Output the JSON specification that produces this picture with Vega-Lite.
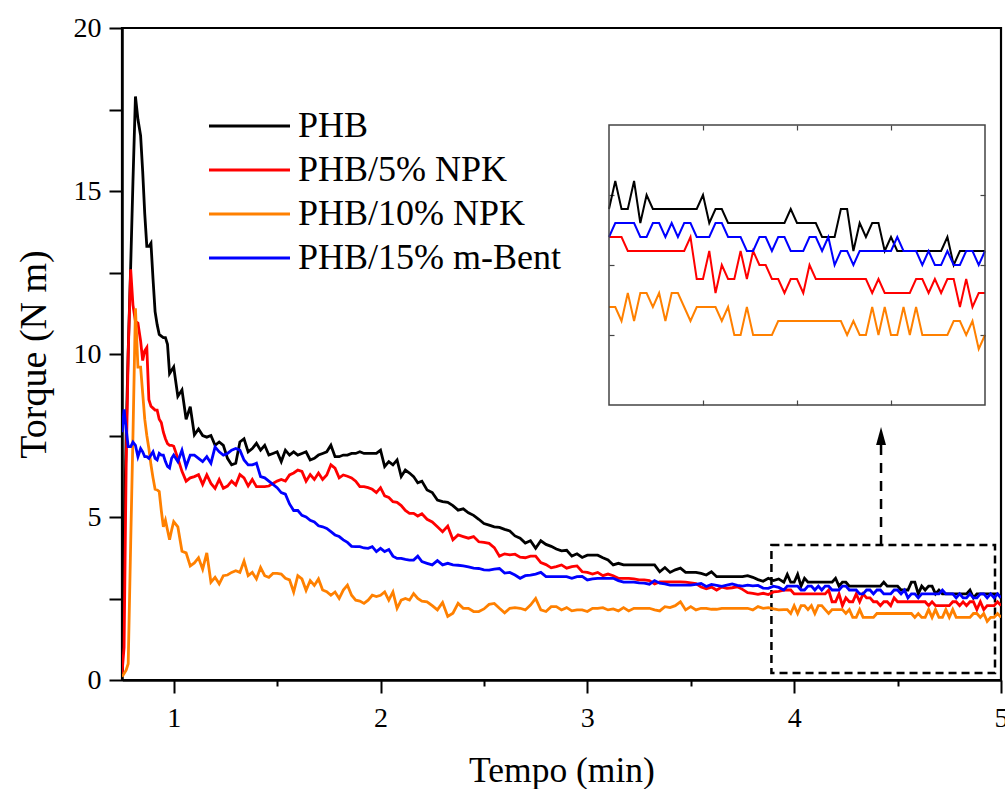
{
  "$schema": "https://vega.github.io/schema/vega-lite/v6.json",
  "width": 879,
  "height": 652,
  "autosize": {"type": "none"},
  "padding": {"left": 122, "top": 28, "right": 4, "bottom": 109},
  "background": "white",
  "config": {
    "view": {"stroke": "black", "strokeWidth": 2.2},
    "font": "Liberation Serif",
    "axis": {"labelFont": "Liberation Serif", "titleFont": "Liberation Serif", "labelColor": "black", "titleColor": "black", "titleFontWeight": "normal", "grid": false}
  },
  "datasets": {
    "torque": [
      {"t": 0.75, "PHB": 0.3, "NPK5": 0.2, "NPK10": 0.1, "Bent15": 7.6},
      {"t": 0.76, "PHB": 4.0, "NPK5": 1.0, "NPK10": 0.2, "Bent15": 8.3},
      {"t": 0.77, "PHB": 7.5, "NPK5": 6.5, "NPK10": 0.3, "Bent15": 7.7},
      {"t": 0.78, "PHB": 10.1, "NPK5": 10.0, "NPK10": 0.5, "Bent15": 7.16},
      {"t": 0.792, "PHB": 12.7, "NPK5": 12.6, "NPK10": 4.2, "Bent15": 7.16},
      {"t": 0.803, "PHB": 15.3, "NPK5": 11.5, "NPK10": 7.5, "Bent15": 7.3},
      {"t": 0.815, "PHB": 17.9, "NPK5": 11.0, "NPK10": 11.4, "Bent15": 7.2},
      {"t": 0.827, "PHB": 17.2, "NPK5": 10.95, "NPK10": 9.6, "Bent15": 6.85},
      {"t": 0.84, "PHB": 16.7, "NPK5": 10.4, "NPK10": 9.6, "Bent15": 7.1},
      {"t": 0.85, "PHB": 15.6, "NPK5": 9.8, "NPK10": 8.8, "Bent15": 7.0},
      {"t": 0.86, "PHB": 14.3, "NPK5": 10.1, "NPK10": 8.0, "Bent15": 6.85},
      {"t": 0.87, "PHB": 13.3, "NPK5": 10.2, "NPK10": 7.5, "Bent15": 6.85},
      {"t": 0.88, "PHB": 13.3, "NPK5": 8.6, "NPK10": 7.1, "Bent15": 6.8},
      {"t": 0.89, "PHB": 13.4, "NPK5": 8.4, "NPK10": 6.6, "Bent15": 6.9},
      {"t": 0.9, "PHB": 12.3, "NPK5": 8.34, "NPK10": 6.2, "Bent15": 7.0},
      {"t": 0.91, "PHB": 11.3, "NPK5": 8.28, "NPK10": 5.85, "Bent15": 6.8},
      {"t": 0.92, "PHB": 10.9, "NPK5": 8.28, "NPK10": 5.83, "Bent15": 6.75},
      {"t": 0.93, "PHB": 10.6, "NPK5": 8.0, "NPK10": 5.78, "Bent15": 6.95},
      {"t": 0.94, "PHB": 10.55, "NPK5": 7.9, "NPK10": 5.2, "Bent15": 6.9},
      {"t": 0.95, "PHB": 10.5, "NPK5": 7.6, "NPK10": 4.7, "Bent15": 6.9},
      {"t": 0.96, "PHB": 10.5, "NPK5": 7.4, "NPK10": 4.9, "Bent15": 6.7},
      {"t": 0.97, "PHB": 10.3, "NPK5": 7.25, "NPK10": 4.6, "Bent15": 6.55},
      {"t": 0.98, "PHB": 9.4, "NPK5": 7.2, "NPK10": 4.3, "Bent15": 6.5},
      {"t": 0.99, "PHB": 9.5, "NPK5": 7.2, "NPK10": 4.6, "Bent15": 6.8},
      {"t": 1.0, "PHB": 9.6, "NPK5": 7.17, "NPK10": 4.86, "Bent15": 6.9},
      {"t": 1.02, "PHB": 8.7, "NPK5": 6.8, "NPK10": 4.7, "Bent15": 6.7},
      {"t": 1.04, "PHB": 8.9, "NPK5": 6.4, "NPK10": 3.95, "Bent15": 7.05},
      {"t": 1.06, "PHB": 8.0, "NPK5": 6.1, "NPK10": 3.9, "Bent15": 6.55},
      {"t": 1.08, "PHB": 8.38, "NPK5": 6.2, "NPK10": 3.5, "Bent15": 6.9},
      {"t": 1.1, "PHB": 7.52, "NPK5": 6.24, "NPK10": 3.59, "Bent15": 6.9},
      {"t": 1.12, "PHB": 7.7, "NPK5": 6.3, "NPK10": 3.75, "Bent15": 6.8},
      {"t": 1.14, "PHB": 7.5, "NPK5": 6.0, "NPK10": 3.4, "Bent15": 6.7},
      {"t": 1.16, "PHB": 7.45, "NPK5": 6.29, "NPK10": 3.9, "Bent15": 6.85},
      {"t": 1.18, "PHB": 7.5, "NPK5": 6.03, "NPK10": 3.0, "Bent15": 6.65},
      {"t": 1.2, "PHB": 7.2, "NPK5": 5.88, "NPK10": 3.15, "Bent15": 7.15},
      {"t": 1.22, "PHB": 7.3, "NPK5": 6.15, "NPK10": 2.95, "Bent15": 7.0},
      {"t": 1.24, "PHB": 7.2, "NPK5": 5.88, "NPK10": 3.2, "Bent15": 6.9},
      {"t": 1.26, "PHB": 6.8, "NPK5": 5.95, "NPK10": 3.22, "Bent15": 6.95},
      {"t": 1.28, "PHB": 6.6, "NPK5": 6.1, "NPK10": 3.3, "Bent15": 7.05},
      {"t": 1.3, "PHB": 6.65, "NPK5": 5.98, "NPK10": 3.35, "Bent15": 7.1},
      {"t": 1.32, "PHB": 7.3, "NPK5": 6.3, "NPK10": 3.3, "Bent15": 7.05},
      {"t": 1.34, "PHB": 7.4, "NPK5": 6.2, "NPK10": 3.65, "Bent15": 6.75},
      {"t": 1.36, "PHB": 7.0, "NPK5": 5.95, "NPK10": 3.2, "Bent15": 6.6},
      {"t": 1.38, "PHB": 7.1, "NPK5": 6.15, "NPK10": 3.3, "Bent15": 6.6},
      {"t": 1.4, "PHB": 7.26, "NPK5": 5.93, "NPK10": 3.1, "Bent15": 6.65},
      {"t": 1.42, "PHB": 7.05, "NPK5": 5.93, "NPK10": 3.45, "Bent15": 6.24},
      {"t": 1.44, "PHB": 7.2, "NPK5": 5.93, "NPK10": 3.2, "Bent15": 6.2},
      {"t": 1.46, "PHB": 6.9, "NPK5": 5.95, "NPK10": 3.15, "Bent15": 6.1},
      {"t": 1.48, "PHB": 6.95, "NPK5": 6.03, "NPK10": 3.27, "Bent15": 6.0},
      {"t": 1.5, "PHB": 7.0, "NPK5": 6.1, "NPK10": 3.27, "Bent15": 5.9},
      {"t": 1.52, "PHB": 6.7, "NPK5": 6.15, "NPK10": 3.25, "Bent15": 5.75},
      {"t": 1.54, "PHB": 7.05, "NPK5": 6.1, "NPK10": 3.12, "Bent15": 5.7},
      {"t": 1.56, "PHB": 6.9, "NPK5": 6.29, "NPK10": 3.07, "Bent15": 5.4},
      {"t": 1.58, "PHB": 7.0, "NPK5": 6.35, "NPK10": 2.7, "Bent15": 5.2},
      {"t": 1.6, "PHB": 6.9, "NPK5": 6.44, "NPK10": 3.2, "Bent15": 5.2},
      {"t": 1.62, "PHB": 6.95, "NPK5": 6.4, "NPK10": 3.1, "Bent15": 5.05},
      {"t": 1.64, "PHB": 7.0, "NPK5": 6.1, "NPK10": 2.75, "Bent15": 5.0},
      {"t": 1.66, "PHB": 6.75, "NPK5": 6.3, "NPK10": 3.05, "Bent15": 4.9},
      {"t": 1.68, "PHB": 6.8, "NPK5": 6.15, "NPK10": 2.9, "Bent15": 4.85},
      {"t": 1.7, "PHB": 6.9, "NPK5": 6.35, "NPK10": 3.1, "Bent15": 4.73},
      {"t": 1.72, "PHB": 6.95, "NPK5": 6.15, "NPK10": 2.76, "Bent15": 4.7},
      {"t": 1.74, "PHB": 7.0, "NPK5": 6.29, "NPK10": 2.71, "Bent15": 4.65},
      {"t": 1.76, "PHB": 7.2, "NPK5": 6.6, "NPK10": 2.6, "Bent15": 4.55},
      {"t": 1.78, "PHB": 6.85, "NPK5": 6.5, "NPK10": 2.7, "Bent15": 4.45},
      {"t": 1.8, "PHB": 6.85, "NPK5": 6.2, "NPK10": 2.5, "Bent15": 4.4},
      {"t": 1.82, "PHB": 6.9, "NPK5": 6.29, "NPK10": 2.76, "Bent15": 4.3},
      {"t": 1.84, "PHB": 6.9, "NPK5": 6.25, "NPK10": 2.91, "Bent15": 4.22},
      {"t": 1.86, "PHB": 6.95, "NPK5": 6.2, "NPK10": 2.6, "Bent15": 4.1},
      {"t": 1.88, "PHB": 6.95, "NPK5": 6.1, "NPK10": 2.45, "Bent15": 4.09},
      {"t": 1.9, "PHB": 7.0, "NPK5": 5.93, "NPK10": 2.42, "Bent15": 4.09},
      {"t": 1.92, "PHB": 6.95, "NPK5": 5.93, "NPK10": 2.35, "Bent15": 4.05},
      {"t": 1.94, "PHB": 6.95, "NPK5": 5.9, "NPK10": 2.45, "Bent15": 4.04},
      {"t": 1.96, "PHB": 6.95, "NPK5": 5.85, "NPK10": 2.6, "Bent15": 4.09},
      {"t": 1.98, "PHB": 6.95, "NPK5": 5.75, "NPK10": 2.56, "Bent15": 3.94},
      {"t": 2.0, "PHB": 7.05, "NPK5": 5.9, "NPK10": 2.6, "Bent15": 4.04},
      {"t": 2.02, "PHB": 6.55, "NPK5": 5.65, "NPK10": 2.7, "Bent15": 3.94},
      {"t": 2.04, "PHB": 6.7, "NPK5": 5.6, "NPK10": 2.45, "Bent15": 4.0},
      {"t": 2.06, "PHB": 6.6, "NPK5": 5.47, "NPK10": 2.7, "Bent15": 3.8},
      {"t": 2.08, "PHB": 6.75, "NPK5": 5.45, "NPK10": 2.2, "Bent15": 3.73},
      {"t": 2.1, "PHB": 6.24, "NPK5": 5.35, "NPK10": 2.45, "Bent15": 3.73},
      {"t": 2.12, "PHB": 6.44, "NPK5": 5.2, "NPK10": 2.5, "Bent15": 3.7},
      {"t": 2.14, "PHB": 6.35, "NPK5": 5.11, "NPK10": 2.45, "Bent15": 3.68},
      {"t": 2.16, "PHB": 6.24, "NPK5": 5.11, "NPK10": 2.65, "Bent15": 3.68},
      {"t": 2.18, "PHB": 6.05, "NPK5": 5.03, "NPK10": 2.5, "Bent15": 3.8},
      {"t": 2.2, "PHB": 6.1, "NPK5": 5.1, "NPK10": 2.42, "Bent15": 3.63},
      {"t": 2.225, "PHB": 5.83, "NPK5": 4.93, "NPK10": 2.4, "Bent15": 3.58},
      {"t": 2.25, "PHB": 5.75, "NPK5": 4.85, "NPK10": 2.28, "Bent15": 3.53},
      {"t": 2.275, "PHB": 5.52, "NPK5": 4.7, "NPK10": 2.15, "Bent15": 3.66},
      {"t": 2.3, "PHB": 5.47, "NPK5": 4.55, "NPK10": 2.38, "Bent15": 3.53},
      {"t": 2.325, "PHB": 5.45, "NPK5": 4.72, "NPK10": 1.95, "Bent15": 3.58},
      {"t": 2.35, "PHB": 5.35, "NPK5": 4.3, "NPK10": 2.05, "Bent15": 3.53},
      {"t": 2.375, "PHB": 5.21, "NPK5": 4.45, "NPK10": 2.35, "Bent15": 3.52},
      {"t": 2.4, "PHB": 5.25, "NPK5": 4.4, "NPK10": 2.2, "Bent15": 3.5},
      {"t": 2.425, "PHB": 5.13, "NPK5": 4.35, "NPK10": 2.2, "Bent15": 3.47},
      {"t": 2.45, "PHB": 5.05, "NPK5": 4.4, "NPK10": 2.1, "Bent15": 3.43},
      {"t": 2.475, "PHB": 4.93, "NPK5": 4.24, "NPK10": 2.1, "Bent15": 3.42},
      {"t": 2.5, "PHB": 4.8, "NPK5": 4.22, "NPK10": 2.18, "Bent15": 3.38},
      {"t": 2.525, "PHB": 4.75, "NPK5": 4.19, "NPK10": 2.32, "Bent15": 3.37},
      {"t": 2.55, "PHB": 4.7, "NPK5": 4.06, "NPK10": 2.35, "Bent15": 3.4},
      {"t": 2.575, "PHB": 4.68, "NPK5": 3.8, "NPK10": 2.2, "Bent15": 3.42},
      {"t": 2.6, "PHB": 4.62, "NPK5": 3.87, "NPK10": 2.06, "Bent15": 3.28},
      {"t": 2.625, "PHB": 4.57, "NPK5": 3.84, "NPK10": 2.2, "Bent15": 3.3},
      {"t": 2.65, "PHB": 4.42, "NPK5": 3.86, "NPK10": 2.22, "Bent15": 3.22},
      {"t": 2.675, "PHB": 4.35, "NPK5": 3.77, "NPK10": 2.2, "Bent15": 3.12},
      {"t": 2.7, "PHB": 4.2, "NPK5": 3.75, "NPK10": 2.15, "Bent15": 3.2},
      {"t": 2.725, "PHB": 4.27, "NPK5": 3.8, "NPK10": 2.3, "Bent15": 3.22},
      {"t": 2.75, "PHB": 4.04, "NPK5": 3.8, "NPK10": 2.5, "Bent15": 3.25},
      {"t": 2.775, "PHB": 4.27, "NPK5": 3.6, "NPK10": 2.15, "Bent15": 3.3},
      {"t": 2.8, "PHB": 4.16, "NPK5": 3.54, "NPK10": 2.1, "Bent15": 3.17},
      {"t": 2.825, "PHB": 4.1, "NPK5": 3.44, "NPK10": 2.25, "Bent15": 3.17},
      {"t": 2.85, "PHB": 4.02, "NPK5": 3.48, "NPK10": 2.25, "Bent15": 3.17},
      {"t": 2.875, "PHB": 3.96, "NPK5": 3.53, "NPK10": 2.15, "Bent15": 3.17},
      {"t": 2.9, "PHB": 3.98, "NPK5": 3.43, "NPK10": 2.22, "Bent15": 3.17},
      {"t": 2.925, "PHB": 3.8, "NPK5": 3.48, "NPK10": 2.12, "Bent15": 3.12},
      {"t": 2.95, "PHB": 3.87, "NPK5": 3.5, "NPK10": 2.15, "Bent15": 3.17},
      {"t": 2.975, "PHB": 3.76, "NPK5": 3.32, "NPK10": 2.15, "Bent15": 3.18},
      {"t": 3.0, "PHB": 3.83, "NPK5": 3.3, "NPK10": 2.1, "Bent15": 3.07},
      {"t": 3.025, "PHB": 3.83, "NPK5": 3.25, "NPK10": 2.2, "Bent15": 3.1},
      {"t": 3.05, "PHB": 3.83, "NPK5": 3.3, "NPK10": 2.2, "Bent15": 3.12},
      {"t": 3.075, "PHB": 3.75, "NPK5": 3.2, "NPK10": 2.22, "Bent15": 3.12},
      {"t": 3.1, "PHB": 3.68, "NPK5": 3.25, "NPK10": 2.15, "Bent15": 3.12},
      {"t": 3.125, "PHB": 3.53, "NPK5": 3.2, "NPK10": 2.18, "Bent15": 3.12},
      {"t": 3.15, "PHB": 3.58, "NPK5": 3.12, "NPK10": 2.12, "Bent15": 3.05},
      {"t": 3.175, "PHB": 3.53, "NPK5": 3.12, "NPK10": 2.22, "Bent15": 3.0},
      {"t": 3.2, "PHB": 3.53, "NPK5": 3.12, "NPK10": 2.12, "Bent15": 3.0},
      {"t": 3.225, "PHB": 3.53, "NPK5": 3.1, "NPK10": 2.2, "Bent15": 3.0},
      {"t": 3.25, "PHB": 3.53, "NPK5": 3.07, "NPK10": 2.2, "Bent15": 2.98},
      {"t": 3.275, "PHB": 3.53, "NPK5": 3.07, "NPK10": 2.2, "Bent15": 2.97},
      {"t": 3.3, "PHB": 3.53, "NPK5": 3.05, "NPK10": 2.2, "Bent15": 2.94},
      {"t": 3.325, "PHB": 3.53, "NPK5": 2.95, "NPK10": 2.15, "Bent15": 3.05},
      {"t": 3.35, "PHB": 3.32, "NPK5": 3.01, "NPK10": 2.12, "Bent15": 2.97},
      {"t": 3.375, "PHB": 3.45, "NPK5": 3.01, "NPK10": 2.25, "Bent15": 2.95},
      {"t": 3.4, "PHB": 3.3, "NPK5": 3.01, "NPK10": 2.22, "Bent15": 2.91},
      {"t": 3.425, "PHB": 3.38, "NPK5": 3.01, "NPK10": 2.28, "Bent15": 2.91},
      {"t": 3.45, "PHB": 3.43, "NPK5": 3.01, "NPK10": 2.4, "Bent15": 2.91},
      {"t": 3.475, "PHB": 3.3, "NPK5": 3.0, "NPK10": 2.15, "Bent15": 2.91},
      {"t": 3.5, "PHB": 3.3, "NPK5": 2.98, "NPK10": 2.25, "Bent15": 2.91},
      {"t": 3.525, "PHB": 3.3, "NPK5": 2.96, "NPK10": 2.15, "Bent15": 2.93},
      {"t": 3.55, "PHB": 3.27, "NPK5": 2.85, "NPK10": 2.2, "Bent15": 2.96},
      {"t": 3.575, "PHB": 3.22, "NPK5": 2.8, "NPK10": 2.2, "Bent15": 2.87},
      {"t": 3.6, "PHB": 3.32, "NPK5": 2.85, "NPK10": 2.17, "Bent15": 2.93},
      {"t": 3.625, "PHB": 3.17, "NPK5": 2.76, "NPK10": 2.17, "Bent15": 2.9},
      {"t": 3.65, "PHB": 3.17, "NPK5": 2.85, "NPK10": 2.2, "Bent15": 2.87},
      {"t": 3.675, "PHB": 3.17, "NPK5": 2.81, "NPK10": 2.2, "Bent15": 2.91},
      {"t": 3.7, "PHB": 3.17, "NPK5": 2.83, "NPK10": 2.2, "Bent15": 2.95},
      {"t": 3.725, "PHB": 3.17, "NPK5": 2.86, "NPK10": 2.2, "Bent15": 2.9},
      {"t": 3.75, "PHB": 3.17, "NPK5": 2.78, "NPK10": 2.2, "Bent15": 2.88},
      {"t": 3.775, "PHB": 3.2, "NPK5": 2.68, "NPK10": 2.2, "Bent15": 2.91},
      {"t": 3.8, "PHB": 3.15, "NPK5": 2.66, "NPK10": 2.15, "Bent15": 2.89},
      {"t": 3.825, "PHB": 3.08, "NPK5": 2.63, "NPK10": 2.25, "Bent15": 2.9},
      {"t": 3.85, "PHB": 3.03, "NPK5": 2.66, "NPK10": 2.2, "Bent15": 2.82},
      {"t": 3.875, "PHB": 3.12, "NPK5": 2.62, "NPK10": 2.22, "Bent15": 2.81},
      {"t": 3.9, "PHB": 3.05, "NPK5": 2.7, "NPK10": 2.18, "Bent15": 2.88},
      {"t": 3.925, "PHB": 3.1, "NPK5": 2.72, "NPK10": 2.15, "Bent15": 2.84},
      {"t": 3.95, "PHB": 3.0, "NPK5": 2.76, "NPK10": 2.16, "Bent15": 2.76},
      {"t": 3.9667, "PHB": 3.24, "NPK5": 2.76, "NPK10": 2.16, "Bent15": 2.88},
      {"t": 3.9833, "PHB": 3.0, "NPK5": 2.76, "NPK10": 2.04, "Bent15": 2.88},
      {"t": 4.0, "PHB": 3.0, "NPK5": 2.64, "NPK10": 2.28, "Bent15": 2.88},
      {"t": 4.0167, "PHB": 3.24, "NPK5": 2.64, "NPK10": 2.04, "Bent15": 2.88},
      {"t": 4.0333, "PHB": 2.88, "NPK5": 2.64, "NPK10": 2.28, "Bent15": 2.76},
      {"t": 4.05, "PHB": 3.12, "NPK5": 2.64, "NPK10": 2.28, "Bent15": 2.76},
      {"t": 4.0667, "PHB": 3.0, "NPK5": 2.64, "NPK10": 2.16, "Bent15": 2.88},
      {"t": 4.0833, "PHB": 3.0, "NPK5": 2.64, "NPK10": 2.28, "Bent15": 2.88},
      {"t": 4.1, "PHB": 3.0, "NPK5": 2.64, "NPK10": 2.04, "Bent15": 2.76},
      {"t": 4.1167, "PHB": 3.0, "NPK5": 2.64, "NPK10": 2.28, "Bent15": 2.88},
      {"t": 4.1333, "PHB": 3.0, "NPK5": 2.64, "NPK10": 2.28, "Bent15": 2.76},
      {"t": 4.15, "PHB": 3.0, "NPK5": 2.64, "NPK10": 2.16, "Bent15": 2.88},
      {"t": 4.1667, "PHB": 3.0, "NPK5": 2.76, "NPK10": 2.04, "Bent15": 2.88},
      {"t": 4.1833, "PHB": 3.0, "NPK5": 2.4, "NPK10": 2.16, "Bent15": 2.76},
      {"t": 4.2, "PHB": 3.12, "NPK5": 2.4, "NPK10": 2.16, "Bent15": 2.76},
      {"t": 4.2167, "PHB": 2.88, "NPK5": 2.64, "NPK10": 2.16, "Bent15": 2.76},
      {"t": 4.2333, "PHB": 3.0, "NPK5": 2.28, "NPK10": 2.16, "Bent15": 2.88},
      {"t": 4.25, "PHB": 3.0, "NPK5": 2.52, "NPK10": 2.04, "Bent15": 2.88},
      {"t": 4.2667, "PHB": 2.88, "NPK5": 2.4, "NPK10": 2.16, "Bent15": 2.76},
      {"t": 4.2833, "PHB": 2.88, "NPK5": 2.4, "NPK10": 1.92, "Bent15": 2.76},
      {"t": 4.3, "PHB": 2.88, "NPK5": 2.64, "NPK10": 1.92, "Bent15": 2.76},
      {"t": 4.3167, "PHB": 2.88, "NPK5": 2.4, "NPK10": 2.16, "Bent15": 2.64},
      {"t": 4.3333, "PHB": 2.88, "NPK5": 2.64, "NPK10": 1.92, "Bent15": 2.64},
      {"t": 4.35, "PHB": 2.88, "NPK5": 2.52, "NPK10": 1.92, "Bent15": 2.76},
      {"t": 4.3667, "PHB": 2.88, "NPK5": 2.52, "NPK10": 1.92, "Bent15": 2.76},
      {"t": 4.3833, "PHB": 2.88, "NPK5": 2.4, "NPK10": 1.92, "Bent15": 2.64},
      {"t": 4.4, "PHB": 2.88, "NPK5": 2.4, "NPK10": 2.04, "Bent15": 2.76},
      {"t": 4.4167, "PHB": 2.88, "NPK5": 2.28, "NPK10": 2.04, "Bent15": 2.76},
      {"t": 4.4333, "PHB": 3.0, "NPK5": 2.4, "NPK10": 2.04, "Bent15": 2.64},
      {"t": 4.45, "PHB": 2.88, "NPK5": 2.4, "NPK10": 2.04, "Bent15": 2.64},
      {"t": 4.4667, "PHB": 2.88, "NPK5": 2.28, "NPK10": 2.04, "Bent15": 2.64},
      {"t": 4.4833, "PHB": 2.88, "NPK5": 2.52, "NPK10": 2.04, "Bent15": 2.76},
      {"t": 4.5, "PHB": 2.88, "NPK5": 2.4, "NPK10": 2.04, "Bent15": 2.76},
      {"t": 4.5167, "PHB": 2.76, "NPK5": 2.4, "NPK10": 2.04, "Bent15": 2.64},
      {"t": 4.5333, "PHB": 2.76, "NPK5": 2.4, "NPK10": 2.04, "Bent15": 2.76},
      {"t": 4.55, "PHB": 2.76, "NPK5": 2.4, "NPK10": 2.04, "Bent15": 2.52},
      {"t": 4.5667, "PHB": 3.0, "NPK5": 2.4, "NPK10": 2.04, "Bent15": 2.64},
      {"t": 4.5833, "PHB": 3.0, "NPK5": 2.4, "NPK10": 1.92, "Bent15": 2.64},
      {"t": 4.6, "PHB": 2.64, "NPK5": 2.4, "NPK10": 2.04, "Bent15": 2.52},
      {"t": 4.6167, "PHB": 2.88, "NPK5": 2.4, "NPK10": 1.92, "Bent15": 2.64},
      {"t": 4.6333, "PHB": 2.76, "NPK5": 2.4, "NPK10": 1.92, "Bent15": 2.64},
      {"t": 4.65, "PHB": 2.88, "NPK5": 2.28, "NPK10": 2.16, "Bent15": 2.64},
      {"t": 4.6667, "PHB": 2.88, "NPK5": 2.4, "NPK10": 1.92, "Bent15": 2.64},
      {"t": 4.6833, "PHB": 2.64, "NPK5": 2.28, "NPK10": 2.16, "Bent15": 2.64},
      {"t": 4.7, "PHB": 2.76, "NPK5": 2.28, "NPK10": 1.92, "Bent15": 2.64},
      {"t": 4.7167, "PHB": 2.64, "NPK5": 2.28, "NPK10": 1.92, "Bent15": 2.76},
      {"t": 4.7333, "PHB": 2.64, "NPK5": 2.28, "NPK10": 2.16, "Bent15": 2.64},
      {"t": 4.75, "PHB": 2.64, "NPK5": 2.28, "NPK10": 1.92, "Bent15": 2.64},
      {"t": 4.7667, "PHB": 2.64, "NPK5": 2.4, "NPK10": 2.16, "Bent15": 2.64},
      {"t": 4.7833, "PHB": 2.64, "NPK5": 2.4, "NPK10": 1.92, "Bent15": 2.52},
      {"t": 4.8, "PHB": 2.64, "NPK5": 2.28, "NPK10": 1.92, "Bent15": 2.64},
      {"t": 4.8167, "PHB": 2.64, "NPK5": 2.4, "NPK10": 1.92, "Bent15": 2.52},
      {"t": 4.8333, "PHB": 2.64, "NPK5": 2.28, "NPK10": 1.92, "Bent15": 2.52},
      {"t": 4.85, "PHB": 2.76, "NPK5": 2.4, "NPK10": 1.92, "Bent15": 2.64},
      {"t": 4.8667, "PHB": 2.52, "NPK5": 2.4, "NPK10": 2.04, "Bent15": 2.52},
      {"t": 4.8833, "PHB": 2.64, "NPK5": 2.16, "NPK10": 2.04, "Bent15": 2.52},
      {"t": 4.9, "PHB": 2.64, "NPK5": 2.4, "NPK10": 1.92, "Bent15": 2.64},
      {"t": 4.9167, "PHB": 2.64, "NPK5": 2.16, "NPK10": 2.04, "Bent15": 2.64},
      {"t": 4.9333, "PHB": 2.64, "NPK5": 2.28, "NPK10": 1.8, "Bent15": 2.52},
      {"t": 4.95, "PHB": 2.64, "NPK5": 2.28, "NPK10": 1.92, "Bent15": 2.64},
      {"t": 4.9667, "PHB": 2.64, "NPK5": 2.28, "NPK10": 1.92, "Bent15": 2.52},
      {"t": 4.9833, "PHB": 2.64, "NPK5": 2.4, "NPK10": 2.04, "Bent15": 2.64},
      {"t": 5.0, "PHB": 2.52, "NPK5": 2.28, "NPK10": 1.92, "Bent15": 2.52}
    ]
  },
  "data": {"name": "torque"},
  "transform": [{"fold": ["PHB", "NPK5", "NPK10", "Bent15"], "as": ["s", "v"]}],
  "resolve": {"scale": {"x": "independent", "y": "independent"}},
  "layer": [
    {
      "data": {"values": [{}]},
      "mark": {"type": "point", "opacity": 0},
      "encoding": {
        "x": {
          "datum": 2, "type": "quantitative",
          "scale": {"domain": [0.75, 5], "nice": false, "zero": false},
          "axis": {
            "orient": "bottom", "values": [1, 2, 3, 4, 5], "format": "d",
            "tickSize": 13, "tickWidth": 2, "tickColor": "black",
            "domain": true, "domainColor": "black", "domainWidth": 2.5,
            "labelFontSize": 28, "labelPadding": 11, "labelFlush": false, "labelOverlap": false,
            "title": "Tempo (min)", "titleFontSize": 35.5, "titlePadding": 21
          }
        },
        "y": {
          "datum": 10, "type": "quantitative",
          "scale": {"domain": [0, 20], "nice": false, "zero": false},
          "axis": {
            "orient": "left", "values": [0, 2.5, 5, 7.5, 10, 12.5, 15, 17.5, 20], "format": ".0f",
            "labelExpr": "datum.value % 5 === 0 ? datum.label : ''",
            "tickSize": 13, "tickWidth": 2, "tickColor": "black",
            "domain": true, "domainColor": "black", "domainWidth": 2.5,
            "labelFontSize": 28, "labelPadding": 8, "labelOverlap": false,
            "title": "Torque (N m)", "titleFontSize": 38, "titlePadding": 20
          }
        }
      }
    },
    {
      "data": {"values": [{}]},
      "mark": {"type": "point", "opacity": 0},
      "encoding": {
        "x": {
          "datum": 2, "type": "quantitative",
          "scale": {"domain": [0.75, 5], "nice": false, "zero": false},
          "axis": {"orient": "bottom", "values": [1.5, 2.5, 3.5, 4.5], "tickSize": 6, "tickWidth": 2, "tickColor": "black", "labels": false, "domain": false, "grid": false, "title": null}
        }
      }
    },
    {
      "layer": [
        {
          "data": {"values": [{}]},
          "mark": {"type": "rect", "filled": false, "stroke": "black", "strokeWidth": 2.5, "strokeDash": [8, 5]},
          "encoding": {
            "x": {"datum": 3.89, "type": "quantitative", "axis": null},
            "x2": {"datum": 4.971},
            "y": {"datum": 0.215, "type": "quantitative", "axis": null},
            "y2": {"datum": 4.14}
          }
        },
        {
          "data": {"values": [{}]},
          "mark": {"type": "rule", "stroke": "black", "strokeWidth": 2.5, "strokeDash": [10, 8]},
          "encoding": {
            "x": {"datum": 4.42, "type": "quantitative", "axis": null},
            "y": {"datum": 4.14, "type": "quantitative", "axis": null},
            "y2": {"datum": 7.21}
          }
        },
        {
          "data": {"values": [{}]},
          "mark": {"type": "point", "shape": "M-0.55,1L0,-1L0.55,1Z", "filled": true, "color": "black", "opacity": 1, "size": 324, "strokeWidth": 0},
          "encoding": {
            "x": {"datum": 4.42, "type": "quantitative", "axis": null},
            "y": {"datum": 7.485, "type": "quantitative", "axis": null}
          }
        },
        {
          "mark": {"type": "line", "strokeWidth": 2.8, "clip": true},
          "encoding": {
            "x": {"field": "t", "type": "quantitative", "scale": {"domain": [0.75, 5], "nice": false, "zero": false}, "axis": null},
            "y": {"field": "v", "type": "quantitative", "scale": {"domain": [0, 20], "nice": false, "zero": false}, "axis": null},
            "color": {
              "field": "s", "type": "nominal",
              "scale": {"domain": ["PHB", "NPK5", "NPK10", "Bent15"], "range": ["#000000", "#ff0000", "#ff8000", "#0000ff"]},
              "legend": {
                "orient": "none", "legendX": 85.5, "legendY": 80, "direction": "vertical",
                "title": null, "symbolType": "stroke", "symbolSize": 6561, "symbolStrokeWidth": 3,
                "labelFont": "Liberation Serif", "labelFontSize": 36, "labelColor": "black",
                "labelOffset": 6.5, "clipHeight": 36, "rowPadding": 8, "padding": 0, "labelLimit": 0,
                "labelExpr": "datum.label == 'PHB' ? 'PHB' : datum.label == 'NPK5' ? 'PHB/5% NPK' : datum.label == 'NPK10' ? 'PHB/10% NPK' : 'PHB/15% m-Bent'"
              }
            }
          }
        }
      ]
    },
    {
      "layer": [
        {
          "transform": [{"filter": "datum.t >= 3.949 && datum.t <= 4.951"}],
          "mark": {"type": "line", "strokeWidth": 2},
          "encoding": {
            "x": {
              "field": "t", "type": "quantitative",
              "scale": {"domain": [3.95, 4.95], "range": [487, 863], "nice": false, "zero": false},
              "axis": {"orient": "bottom", "offset": -275, "values": [4.2, 4.45, 4.7], "tickSize": -5, "tickWidth": 1.2, "tickColor": "#444444", "labels": false, "domain": false, "grid": false, "title": null}
            },
            "y": {
              "field": "v", "type": "quantitative",
              "scale": {"domain": [1.32, 3.72], "range": [377, 97], "nice": false, "zero": false},
              "axis": {"orient": "left", "offset": -487, "values": [1.92, 2.52, 3.12], "tickSize": -5, "tickWidth": 1.2, "tickColor": "#444444", "labels": false, "domain": false, "grid": false, "title": null}
            },
            "color": {"field": "s", "type": "nominal", "legend": null}
          }
        },
        {
          "data": {"values": [{}]},
          "mark": {"type": "rect", "filled": false, "stroke": "#444444", "strokeWidth": 1.5},
          "encoding": {
            "x": {"datum": 3.95, "type": "quantitative", "axis": {"orient": "top", "offset": -97, "values": [4.2, 4.45, 4.7], "tickSize": -5, "tickWidth": 1.2, "tickColor": "#444444", "labels": false, "domain": false, "grid": false, "title": null}},
            "x2": {"datum": 4.95},
            "y": {"datum": 1.32, "type": "quantitative", "axis": {"orient": "right", "offset": -16, "values": [1.92, 2.52, 3.12], "tickSize": -5, "tickWidth": 1.2, "tickColor": "#444444", "labels": false, "domain": false, "grid": false, "title": null}},
            "y2": {"datum": 3.72}
          }
        }
      ]
    }
  ]
}
